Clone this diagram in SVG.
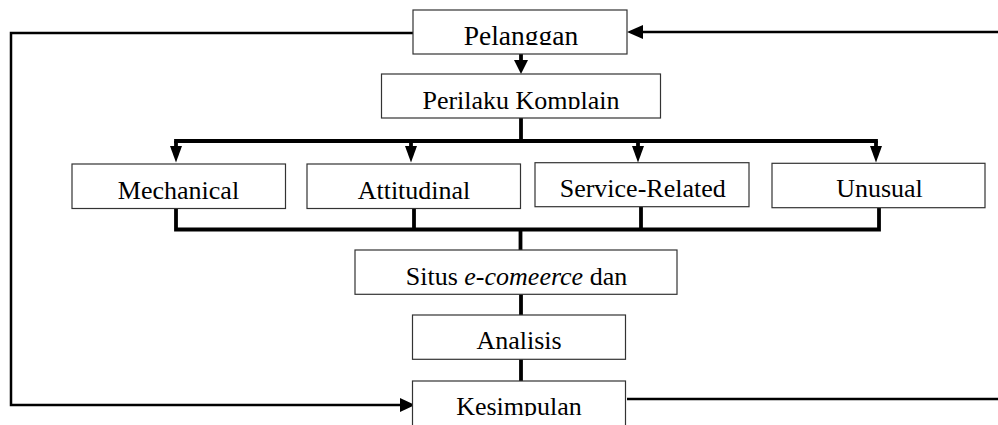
<svg xmlns="http://www.w3.org/2000/svg" width="998" height="425" viewBox="0 0 998 425">
<defs>
<style>
.box{fill:#fff;stroke:#333;stroke-width:1.2}
.t{font-family:"Liberation Serif","Times New Roman",serif;font-size:26px;fill:#000;text-anchor:middle}
.c{fill:none;stroke:#000;stroke-linejoin:miter;stroke-linecap:butt}
.thin{stroke-width:2.5}
.thick{stroke-width:3.8}
.ah{fill:#000;stroke:none}
</style>
<clipPath id="clipP"><rect x="413" y="10" width="214" height="35"/></clipPath>
<clipPath id="clipK"><rect x="381" y="74" width="280" height="35"/></clipPath>
<clipPath id="clipS"><rect x="412" y="381" width="214" height="35"/></clipPath>
</defs>
<rect width="998" height="425" fill="#fff"/>
<g id="connectors">
<polyline class="c thin" points="413,33 11,33 11,405 400,405"/>
<polygon class="ah" points="415,405 400,398 400,412"/>
<line class="c thin" x1="998" y1="32" x2="642" y2="32"/>
<polygon class="ah" points="627,32 643,25 643,39"/>
<line class="c thin" x1="627" y1="399" x2="998" y2="399"/>
<line class="c thick" x1="521" y1="54" x2="521" y2="61"/>
<polygon class="ah" points="521,74 514,60 528,60"/>
<line class="c thick" x1="521" y1="118" x2="521" y2="141"/>
<line class="c thick" x1="174.1" y1="141" x2="877.9" y2="141"/>
<line class="c thick" x1="176" y1="141" x2="176" y2="147"/>
<polygon class="ah" points="176,162.5 170,146 182,146"/>
<line class="c thick" x1="411" y1="141" x2="411" y2="147"/>
<polygon class="ah" points="411,162.5 405,146 417,146"/>
<line class="c thick" x1="638" y1="141" x2="638" y2="147"/>
<polygon class="ah" points="638,162.5 632,146 644,146"/>
<line class="c thick" x1="876" y1="141" x2="876" y2="147"/>
<polygon class="ah" points="876,162.5 870,146 882,146"/>
<polyline class="c thick" points="176,209 176,229.5 879,229.5 879,208"/>
<line class="c thick" x1="414" y1="209" x2="414" y2="229.5"/>
<line class="c thick" x1="641" y1="207" x2="641" y2="229.5"/>
<line class="c thick" x1="520.5" y1="229.5" x2="520.5" y2="250"/>
<line class="c thick" x1="521" y1="294" x2="521" y2="315"/>
<line class="c thick" x1="521" y1="359" x2="521" y2="381"/>
</g>
<g id="pelanggan">
<rect class="box" x="413" y="10" width="214" height="44"/>
<text class="t" x="521" y="44.5" clip-path="url(#clipP)" style="font-size:27.5px">Pelanggan</text>
</g>
<g id="perilaku">
<rect class="box" x="381.5" y="74" width="279" height="44"/>
<text class="t" x="521" y="108.5" clip-path="url(#clipK)">Perilaku Komplain</text>
</g>
<g id="mechanical">
<rect class="box" x="72" y="164" width="213.5" height="44.5"/>
<text class="t" x="178.5" y="199">Mechanical</text>
</g>
<g id="attitudinal">
<rect class="box" x="307" y="164" width="213.5" height="44.5"/>
<text class="t" x="414" y="199">Attitudinal</text>
</g>
<g id="service-related">
<rect class="box" x="535" y="162.7" width="214" height="44"/>
<text class="t" x="642.7" y="196.7">Service-Related</text>
</g>
<g id="unusual">
<rect class="box" x="772" y="163.3" width="213" height="44.4"/>
<text class="t" x="879.5" y="197.3">Unusual</text>
</g>
<g id="situs">
<rect class="box" x="355" y="250" width="322" height="44.3"/>
<text class="t" x="516.5" y="285">Situs <tspan font-style="italic">e-comeerce</tspan> dan</text>
</g>
<g id="analisis">
<rect class="box" x="412.5" y="315" width="213" height="44.3"/>
<text class="t" x="519" y="349">Analisis</text>
</g>
<g id="kesimpulan">
<rect class="box" x="412.5" y="381" width="213" height="50"/>
<text class="t" x="519" y="415" clip-path="url(#clipS)">Kesimpulan</text>
</g>
</svg>
